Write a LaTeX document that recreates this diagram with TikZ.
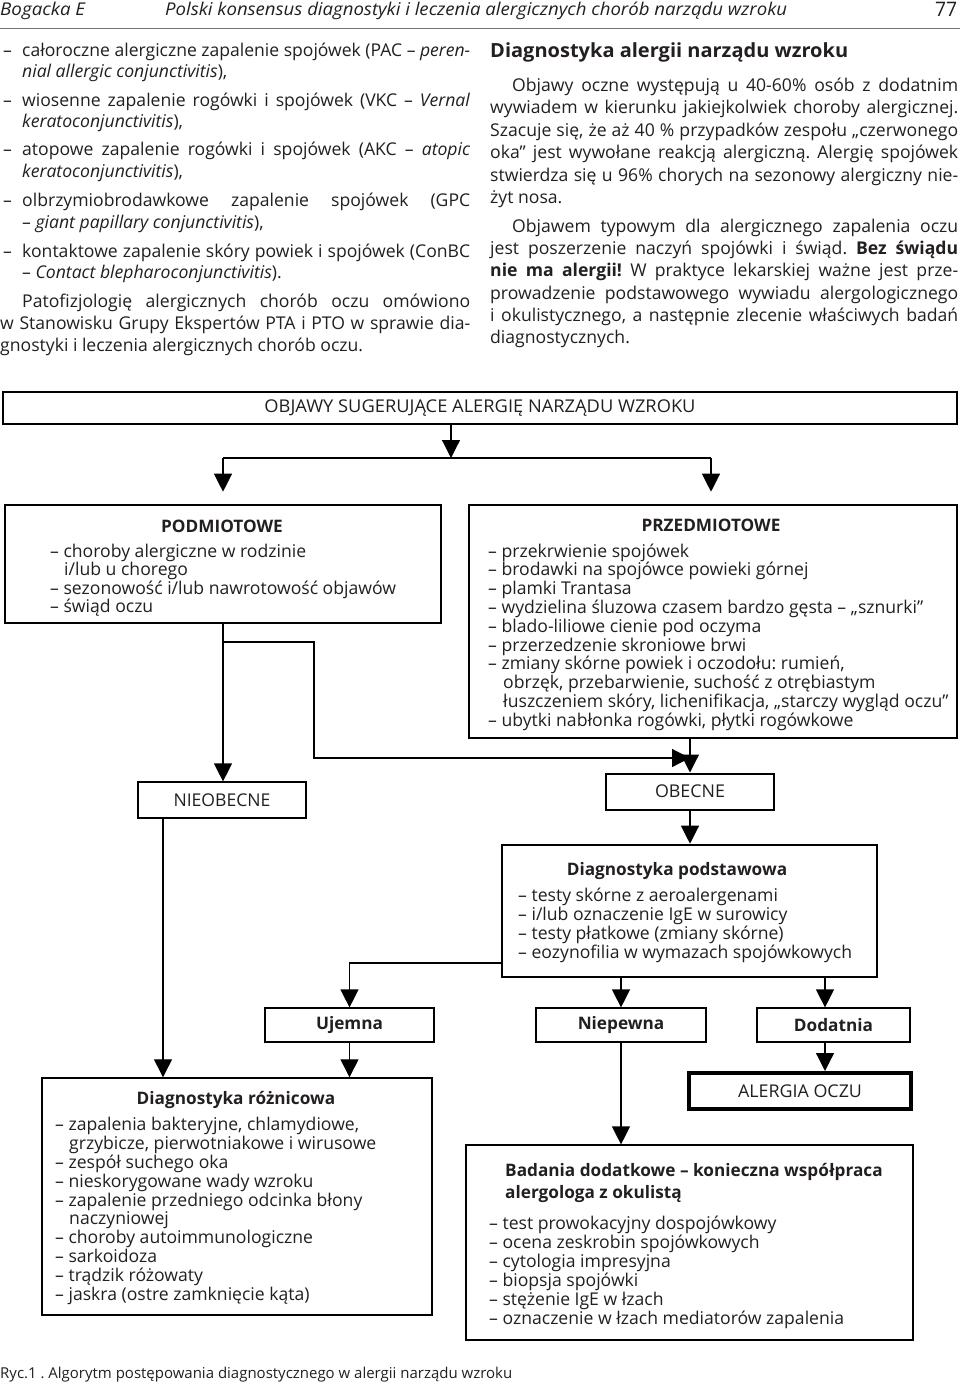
\documentclass[tikz,border=0pt]{standalone}
\usepackage{fontspec}
\setmainfont{Open Sans}
\usepackage{graphicx}
\usetikzlibrary{arrows.meta}
\definecolor{ink}{RGB}{35,31,32}
\frenchspacing
\newsavebox\jlbox
\newcommand\jline[2]{\sbox\jlbox{#2}\ifdim\wd\jlbox>#1\relax\resizebox{#1}{\height}{\usebox\jlbox}\else\makebox[#1][s]{#2}\fi}
\newcommand\fitw[2]{\resizebox{#1}{\height}{#2}}
\newcommand\bodyfont{\fontsize{17.6}{21}\selectfont}
\newcommand\boxfont{\fontsize{17.6}{19}\selectfont}
\newcommand\titlefont{\fontsize{17.2}{19}\selectfont\bfseries}
\tikzset{
  t/.style={anchor=base west, inner sep=0pt, text=ink, font=\bodyfont},
  tb/.style={anchor=base west, inner sep=0pt, text=ink, font=\boxfont},
  tbc/.style={anchor=base, inner sep=0pt, text=ink, font=\titlefont},
  box/.style={draw=black, line width=1.2pt, inner sep=0pt, text=ink, font=\boxfont},
  thickbox/.style={box, line width=2.6pt},
  conn/.style={draw=black, line width=1.2pt},
  arr/.style={conn, -{Triangle[length=18pt,width=18pt]}},
}
\begin{document}
\frenchspacing
\begin{tikzpicture}[x=1pt,y=-1pt]
\useasboundingbox (0,0) rectangle (960,1383);
\fill[white] (0,0) rectangle (960,1383);
% header
\node[t] (h1) at (0,16) {\itshape\fitw{85pt}{Bogacka E}};
\node[t] (h2) at (165,16) {\itshape\fitw{622pt}{Polski konsensus diagnostyki i leczenia alergicznych chorób narządu wzroku}};
\node[t, font=\fontsize{20}{21}\selectfont] (h3) at (935,17) {\fitw{22pt}{77}};
\draw[black!55, line width=0.8pt] (0,28) -- (960,28);
% left column
\node[t] (d1) at (3,57) {–};
\node[t] (l1) at (22,57) {\jline{448pt}{całoroczne alergiczne zapalenie spojówek (PAC – \textit{peren-}}};
\node[t] (l2) at (22,78) {\textit{nial allergic conjunctivitis}),};
\node[t] (d3) at (3,107) {–};
\node[t] (l3) at (22,107) {\jline{448pt}{wiosenne zapalenie rogówki i spojówek (VKC – \textit{Vernal}}};
\node[t] (l4) at (22,128) {\textit{keratoconjunctivitis}),};
\node[t] (d5) at (3,156) {–};
\node[t] (l5) at (22,156) {\jline{448pt}{atopowe zapalenie rogówki i spojówek (AKC – \textit{atopic}}};
\node[t] (l6) at (22,178) {\textit{keratoconjunctivitis}),};
\node[t] (d7) at (3,207) {–};
\node[t] (l7) at (22,207) {\jline{448pt}{olbrzymiobrodawkowe zapalenie spojówek (GPC}};
\node[t] (l8) at (22,228) {– \textit{giant papillary conjunctivitis}),};
\node[t] (d9) at (3,257) {–};
\node[t] (l9) at (22,257) {\jline{448pt}{kontaktowe zapalenie skóry powiek i spojówek (ConBC}};
\node[t] (l10) at (22,278) {– \textit{Contact blepharoconjunctivitis}).};
\node[t] (l11) at (22,307) {\jline{448pt}{Patofizjologię alergicznych chorób oczu omówiono}};
\node[t] (l12) at (0,329) {\jline{470pt}{w Stanowisku Grupy Ekspertów PTA i PTO w sprawie dia-}};
\node[t] (l13) at (0,351) {gnostyki i leczenia alergicznych chorób oczu.};
% right column
\node[t, font=\fontsize{19.5}{21}\selectfont\bfseries] (rh) at (490,58) {\fitw{358pt}{Diagnostyka alergii narządu wzroku}};
\node[t] (r1) at (512,92) {\jline{446pt}{Objawy oczne występują u 40-60\% osób z dodatnim}};
\node[t] (r2) at (490,114) {\jline{468pt}{wywiadem w kierunku jakiejkolwiek choroby alergicznej.}};
\node[t] (r3) at (490,137) {\jline{468pt}{Szacuje się, że aż 40 \% przypadków zespołu „czerwonego}};
\node[t] (r4) at (490,159) {\jline{468pt}{oka” jest wywołane reakcją alergiczną. Alergię spojówek}};
\node[t] (r5) at (490,182) {\jline{468pt}{stwierdza się u 96\% chorych na sezonowy alergiczny nie-}};
\node[t] (r6) at (490,204) {żyt nosa.};
\node[t] (r7) at (512,232) {\jline{446pt}{Objawem typowym dla alergicznego zapalenia oczu}};
\node[t] (r8) at (490,254) {\jline{468pt}{jest poszerzenie naczyń spojówki i świąd. \textbf{Bez świądu}}};
\node[t] (r9) at (490,276) {\jline{468pt}{\textbf{nie ma alergii!} W praktyce lekarskiej ważne jest prze-}};
\node[t] (r10) at (490,299) {\jline{468pt}{prowadzenie podstawowego wywiadu alergologicznego}};
\node[t] (r11) at (490,321) {\jline{468pt}{i okulistycznego, a następnie zlecenie właściwych badań}};
\node[t] (r12) at (490,343) {diagnostycznych.};
% boxes
\node[box, line width=1.7pt, minimum width=954pt, minimum height=32pt, font=\fontsize{17.6}{19}\selectfont] (objawy) at (480,408) {\fitw{431pt}{OBJAWY SUGERUJĄCE ALERGIĘ NARZĄDU WZROKU}};
\node[thickbox, minimum width=436pt, minimum height=118pt] (pod) at (223,564) {};
\node[thickbox, minimum width=488pt, minimum height=233pt] (przed) at (713,621.5) {};
\node[box, minimum width=168pt, minimum height=36pt, font=\fontsize{17.6}{19}\selectfont] (nieob) at (222,800) {\fitw{97pt}{NIEOBECNE}};
\node[box, line width=2pt, minimum width=168pt, minimum height=36pt, font=\fontsize{17.6}{19}\selectfont] (obec) at (690,791.5) {\fitw{70pt}{OBECNE}};
\node[thickbox, minimum width=375pt, minimum height=132pt] (podst) at (689.5,911) {};
\node[box, minimum width=169pt, minimum height=34pt, font=\titlefont] (ujemna) at (349.5,1025) {Ujemna};
\node[box, minimum width=170pt, minimum height=34pt, font=\titlefont] (niepewna) at (621,1025) {Niepewna};
\node[box, minimum width=153pt, minimum height=34pt, font=\titlefont] (dodatnia) at (833.5,1025) {Dodatnia};
\node[box, line width=4pt, minimum width=222pt, minimum height=36pt, font=\fontsize{17.6}{19}\selectfont] (alergia) at (800,1091) {\fitw{124pt}{ALERGIA OCZU}};
\node[box, line width=1.4pt, minimum width=390pt, minimum height=237pt] (rozn) at (237,1196.5) {};
\node[box, minimum width=447pt, minimum height=195pt] (badania) at (689.5,1242.5) {};
% PODMIOTOWE text
\node[tbc] (pt) at (222,532) {PODMIOTOWE};
\node[tb] (p1) at (50,557) {– choroby alergiczne w rodzinie};
\node[tb] (p2) at (64,575.5) {i/lub u chorego};
\node[tb] (p3) at (50,594) {– sezonowość i/lub nawrotowość objawów};
\node[tb] (p4) at (50,612) {– świąd oczu};
% PRZEDMIOTOWE text
\node[tbc] (qt) at (711,531) {PRZEDMIOTOWE};
\node[tb] (q1) at (488,557) {– przekrwienie spojówek};
\node[tb] (q2) at (488,575.8) {– brodawki na spojówce powieki górnej};
\node[tb] (q3) at (488,594.6) {– plamki Trantasa};
\node[tb] (q4) at (488,613.4) {– wydzielina śluzowa czasem bardzo gęsta – „sznurki”};
\node[tb] (q5) at (488,632.2) {– blado-liliowe cienie pod oczyma};
\node[tb] (q6) at (488,651) {– przerzedzenie skroniowe brwi};
\node[tb] (q7) at (488,669.8) {– zmiany skórne powiek i oczodołu: rumień,};
\node[tb] (q8) at (503,688.6) {obrzęk, przebarwienie, suchość z otrębiastym};
\node[tb] (q9) at (503,707.4) {łuszczeniem skóry, lichenifikacja, „starczy wygląd oczu”};
\node[tb] (q10) at (488,726.2) {– ubytki nabłonka rogówki, płytki rogówkowe};
% Diagnostyka podstawowa text
\node[tbc] (st) at (677,875) {Diagnostyka podstawowa};
\node[tb] (s1) at (518,901) {– testy skórne z aeroalergenami};
\node[tb] (s2) at (518,920) {– i/lub oznaczenie IgE w surowicy};
\node[tb] (s3) at (518,939) {– testy płatkowe (zmiany skórne)};
\node[tb] (s4) at (518,958) {– eozynofilia w wymazach spojówkowych};
% Diagnostyka roznicowa text
\node[tbc] (zt) at (236,1104) {Diagnostyka różnicowa};
\node[tb] (z1) at (55,1130) {– zapalenia bakteryjne, chlamydiowe,};
\node[tb] (z2) at (69,1149) {grzybicze, pierwotniakowe i wirusowe};
\node[tb] (z3) at (55,1168) {– zespół suchego oka};
\node[tb] (z4) at (55,1187) {– nieskorygowane wady wzroku};
\node[tb] (z5) at (55,1206) {– zapalenie przedniego odcinka błony};
\node[tb] (z6) at (69,1224.5) {naczyniowej};
\node[tb] (z7) at (55,1243) {– choroby autoimmunologiczne};
\node[tb] (z8) at (55,1262) {– sarkoidoza};
\node[tb] (z9) at (55,1281) {– trądzik różowaty};
\node[tb] (z10) at (55,1300) {– jaskra (ostre zamknięcie kąta)};
% Badania text
\node[tb, font=\titlefont] (bt1) at (505,1176) {Badania dodatkowe – konieczna współpraca};
\node[tb, font=\titlefont] (bt2) at (505,1198) {alergologa z okulistą};
\node[tb] (b1) at (489,1229) {– test prowokacyjny dospojówkowy};
\node[tb] (b2) at (489,1248) {– ocena zeskrobin spojówkowych};
\node[tb] (b3) at (489,1267) {– cytologia impresyjna};
\node[tb] (b4) at (489,1286) {– biopsja spojówki};
\node[tb] (b5) at (489,1305) {– stężenie IgE w łzach};
\node[tb] (b6) at (489,1324) {– oznaczenie w łzach mediatorów zapalenia};
% caption
\node[tb, font=\fontsize{15}{17}\selectfont] (cap) at (0,1378) {\fitw{512pt}{Ryc.1 . Algorytm postępowania diagnostycznego w alergii narządu wzroku}};
% connector coordinates
\coordinate (b0) at (451,458);
\coordinate (bL) at (223,458);
\coordinate (bR) at (711,458);
\coordinate (c1) at (314,642);
\coordinate (c2) at (314,758);
\coordinate (c3) at (690,758);
\coordinate (n1) at (163,818);
\coordinate (u1) at (349.5,963);
\coordinate (dd) at (825,977);
% connectors
\draw[arr] (objawy.south -| b0) -- (b0);
\draw[conn] (bL) -- (bR);
\draw[arr, shorten >=12pt] (bL) -- (pod.north);
\draw[arr, shorten >=12pt] (bR) -- (bR |- przed.north);
\draw[arr] (pod.south) -- (pod.south |- nieob.north);
\draw[arr] (pod.south |- c1) -- (c1) -- (c2) -- (c3);
\draw[arr] (obec.north |- przed.south) -- (obec.north);
\draw[arr] (obec.south) -- (obec.south |- podst.north);
\draw[arr] (n1 |- nieob.south) -- (n1 |- rozn.north);
\draw[arr] (podst.west |- u1) -- (u1) -- (ujemna.north);
\draw[arr] (ujemna.south) -- (ujemna.south |- rozn.north);
\draw[arr] (niepewna.north |- podst.south) -- (niepewna.north);
\draw[arr] (dd |- podst.south) -- (dd |- dodatnia.north);
\draw[arr] (dd |- dodatnia.south) -- (dd |- alergia.north);
\draw[arr] (niepewna.south) -- (niepewna.south |- badania.north);
\end{tikzpicture}
\end{document}
